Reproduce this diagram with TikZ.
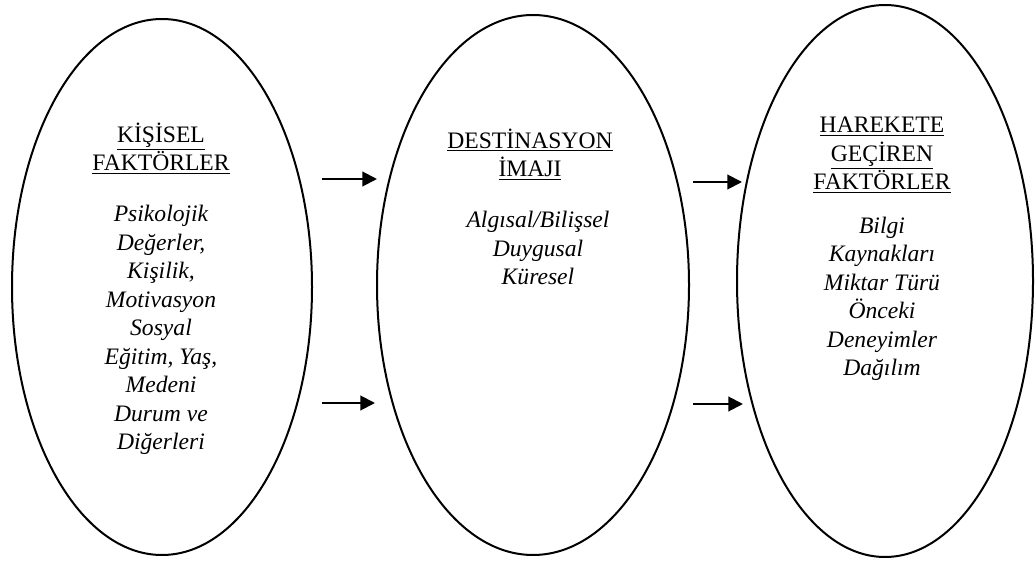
\documentclass[tikz,border=0pt]{standalone}
\usepackage{fontspec}
\setmainfont{Liberation Serif}
\usetikzlibrary{shapes.geometric,arrows.meta}

\begin{document}
\begin{tikzpicture}[x=0.75pt,y=-0.75pt]
        % Define styles
        \tikzset{
            factor/.style={ellipse, draw, line width=1.5pt, inner sep=0pt},
            heading/.style={anchor=base, align=center, font=\fontsize{17.7}{21.4}\selectfont},
            items/.style={anchor=base, align=center, font=\fontsize{17.7}{21.4}\selectfont\itshape},
            arrow/.style={-{Triangle[length=11pt,width=11pt]}, line width=1.5pt}
        }
        \useasboundingbox (0,0) rectangle (1035,566);

        % Nodes (text placed by the baseline of its last line)
        \node[factor, minimum width=225pt, minimum height=402pt] (factor_node_1) at (162,287) {};
        \node[heading] (heading_node_1) at (161,171) {\underline{KİŞİSEL}\\\underline{FAKTÖRLER}};
        \node[items] (items_node_1) at (161,450) {Psikolojik\\Değerler,\\Kişilik,\\Motivasyon\\Sosyal\\Eğitim, Yaş,\\Medeni\\Durum ve\\Diğerleri};

        \node[factor, minimum width=234pt, minimum height=405pt] (factor_node_2) at (533,285) {};
        \node[heading] (heading_node_2) at (530,177) {\underline{DESTİNASYON}\\\underline{İMAJI}};
        \node[items] (items_node_2) at (538,285) {Algısal/Bilişsel\\Duygusal\\Küresel};

        \node[factor, minimum width=222pt, minimum height=414pt] (factor_node_3) at (885,281) {};
        \node[heading] (heading_node_3) at (882,190) {\underline{HAREKETE}\\\underline{GEÇİREN}\\\underline{FAKTÖRLER}};
        \node[items] (items_node_3) at (882,376) {Bilgi\\Kaynakları\\Miktar Türü\\Önceki\\Deneyimler\\Dağılım};

        % Arrows
        \coordinate (arrow_start_1) at (322,179);
        \coordinate (arrow_end_1) at (377,179);
        \coordinate (arrow_start_2) at (322,403);
        \coordinate (arrow_end_2) at (375,403);
        \coordinate (arrow_start_3) at (693,182);
        \coordinate (arrow_end_3) at (742,182);
        \coordinate (arrow_start_4) at (693,404);
        \coordinate (arrow_end_4) at (743,404);
        \draw[arrow] (arrow_start_1) -- (arrow_end_1);
        \draw[arrow] (arrow_start_2) -- (arrow_end_2);
        \draw[arrow] (arrow_start_3) -- (arrow_end_3);
        \draw[arrow] (arrow_start_4) -- (arrow_end_4);
    \end{tikzpicture}
\end{document}
